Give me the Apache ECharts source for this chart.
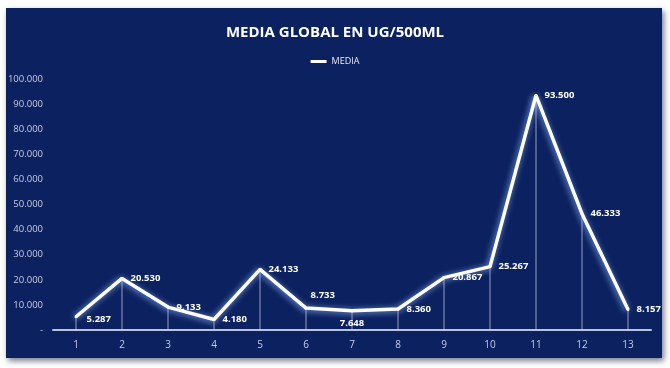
<!DOCTYPE html>
<html><head><meta charset="utf-8">
<script src="https://cdn.jsdelivr.net/npm/echarts@6/dist/echarts.min.js"></script>
<style>
html,body{margin:0;padding:0;background:#fff;width:670px;height:368px;overflow:hidden;}
#frame{position:absolute;left:6px;top:8px;width:656px;height:350px;background:#0c215f;box-shadow:2px 3px 6px rgba(60,70,90,0.7);}
#c{position:absolute;left:0;top:0;width:670px;height:368px;}
</style></head>
<body>
<div id="frame"></div>
<div id="c"></div>
<script>
var categories = ['1','2','3','4','5','6','7','8','9','10','11','12','13'];
var media = [5287, 20530, 9133, 4180, 24133, 8733, 7648, 8360, 20867, 25267, 93500, 46333, 8157];
var yTicks = [0, 10000, 20000, 30000, 40000, 50000, 60000, 70000, 80000, 90000, 100000];

function fmt(v){
  if (v === 0) return '-';
  return String(v).replace(/\B(?=(\d{3})+(?!\d))/g, '.');
}
var labelOpts = {
  0: {offset:[2,3]},
  5: {offset:[-4,-13]},
  6: {position:'bottom', distance:6}
};
var lineData = media.map(function(v,i){
  var o = {value:v};
  if (labelOpts[i]) o.label = labelOpts[i];
  return o;
});
var chart = echarts.init(document.getElementById('c'));
chart.setOption({
  backgroundColor:'transparent',
  animation:false,
  title:{text:'MEDIA GLOBAL EN UG/500ML',left:'center',top:20,
    textStyle:{color:'#ffffff',fontFamily:'Open Sans',fontWeight:'bold',fontSize:15}},
  legend:{top:52,left:'center',itemWidth:16,itemHeight:3,itemGap:4,
    data:[{name:'MEDIA',icon:'rect'}],
    textStyle:{color:'#e8ecf5',fontSize:9,fontFamily:'Open Sans'}},
  grid:{left:53,right:19,top:79,bottom:38},
  xAxis:{type:'category',data:categories,boundaryGap:true,
    axisLine:{lineStyle:{color:'#b8c2dc',width:2}},axisTick:{show:false},
    axisLabel:{color:'#c5cde0',fontSize:10,margin:10,fontFamily:'Open Sans'}},
  yAxis:{type:'value',min:0,max:100000,interval:10000,
    axisLine:{show:false},axisTick:{show:false},splitLine:{show:false},
    axisLabel:{color:'#c5cde0',fontSize:9.5,margin:10,fontFamily:'Open Sans',
      formatter:function(v){return fmt(v);}}},
  series:[
    {type:'bar',name:'drop',data:media,barWidth:1,silent:true,legendHoverLink:false,
      itemStyle:{color:'rgba(220,228,245,0.65)'},z:1},
    {type:'line',name:'MEDIA',data:lineData,symbol:'circle',symbolSize:3,showSymbol:true,z:3,
      lineStyle:{color:'#ffffff',width:3.5,shadowColor:'rgba(150,190,255,0.9)',shadowBlur:6,shadowOffsetX:-1,shadowOffsetY:1},
      itemStyle:{color:'#ffffff'},
      label:{show:true,position:'right',distance:7,color:'#ffffff',fontWeight:'bold',fontSize:9.5,fontFamily:'Open Sans',
        formatter:function(p){return fmt(p.value);}},
      labelLine:{show:false}}
  ]
});
</script>
</body></html>
